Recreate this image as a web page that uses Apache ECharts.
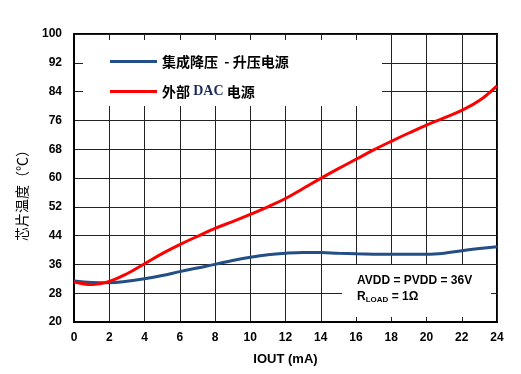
<!DOCTYPE html>
<html>
<head>
<meta charset="utf-8">
<script src="https://cdn.jsdelivr.net/npm/echarts@6/dist/echarts.min.js"></script>
<style>html,body{margin:0;padding:0;background:#fff;}#c{width:521px;height:374px;}</style>
</head>
<body>
<div id="c"></div>
<script>
const iout = [0,1,2,3,4,5,6,7,8,9,10,11,12,13,14,15,16,17,18,19,20,21,22,23,24];
const buckBoost = [31.4,31.0,30.9,31.3,32.0,32.9,34.0,35.0,36.0,37.1,38.0,38.7,39.1,39.3,39.3,39.1,38.95,38.85,38.8,38.8,38.8,39.1,39.8,40.4,40.9];
const extDac = [31.1,30.4,31.3,33.4,36.2,39.0,41.5,43.8,46.0,47.9,49.9,52.0,54.3,57.1,59.9,62.6,65.2,67.8,70.2,72.5,74.7,76.7,78.8,81.5,85.6];
const seriesNames = ['集成降压  - 升压电源', '外部 DAC 电源'];
const xTicks = [0,2,4,6,8,10,12,14,16,18,20,22,24];
const yTicks = [20,28,36,44,52,60,68,76,84,92,100];

const chart = echarts.init(document.getElementById('c'), null, {renderer:'canvas'});
const boldFont = 'Arial, "Liberation Sans", sans-serif';
const cjk = '"Noto Sans CJK SC", sans-serif';
chart.setOption({
  animation: false,
  backgroundColor: '#fff',
  grid: {left:74, right:24, top:34, bottom:52, show:true, borderColor:'#000', borderWidth:2, backgroundColor:'transparent'},
  xAxis: {
    type:'value', min:0, max:24, interval:2,
    name:'IOUT (mA)', nameLocation:'middle', nameGap:31,
    nameTextStyle:{fontFamily:boldFont, fontWeight:'bold', fontSize:13, color:'#000'},
    axisLine:{show:true, lineStyle:{color:'#000', width:2}},
    axisTick:{show:false},
    axisLabel:{margin:10, fontFamily:boldFont, fontWeight:'bold', fontSize:12, color:'#000', formatter: v => xTicks.includes(v) ? String(v) : ''},
    splitLine:{show:true, lineStyle:{color:'#222', width:1}}
  },
  yAxis: {
    type:'value', min:20, max:100, interval:8,
    axisLine:{show:true, lineStyle:{color:'#000', width:2}},
    axisTick:{show:false},
    axisLabel:{margin:12, fontFamily:boldFont, fontWeight:'bold', fontSize:12, color:'#000', formatter: v => yTicks.includes(v) ? String(v) : ''},
    splitLine:{show:true, lineStyle:{color:'#222', width:1}}
  },
  legend: {
    show:true, z:20, orient:'vertical', left:110, top:53, itemGap:13, padding:0,
    itemWidth:47, itemHeight:3, icon:'rect',
    textStyle:{fontFamily:cjk, fontWeight:'bold', fontSize:14, color:'#000', lineHeight:17,
      rich:{d:{fontFamily:'"Liberation Serif", serif', fontWeight:'bold', fontSize:14, lineHeight:17, color:'#1a2a5a'}}},
    formatter: function(n){ return n === seriesNames[1] ? '外部 {d|DAC} 电源' : n; },
    data: seriesNames
  },
  graphic: [
    {type:'rect', z:1, shape:{x:83, y:40, width:299, height:66}, style:{fill:'#fff'}},
    {type:'rect', z:1, shape:{x:342, y:265, width:149, height:52}, style:{fill:'#fff'}},
    {type:'text', z:6, left:357, top:275, style:{text:'AVDD = PVDD = 36V', fontFamily:boldFont, fontWeight:'bold', fontSize:12, fill:'#000'}},
    {type:'text', z:6, left:357, top:291, style:{
      text:'R{s|LOAD} = 1Ω', fontFamily:boldFont, fontWeight:'bold', fontSize:12, fill:'#000',
      rich:{s:{fontSize:8, fontWeight:'bold', fontFamily:boldFont, verticalAlign:'bottom', padding:[6,0,0,0]}}
    }},
    {type:'text', z:6, x:22, y:192, rotation:Math.PI/2, style:{text:'芯片温度（℃）', fontFamily:cjk, fontSize:14, fill:'#000', align:'center', verticalAlign:'middle'}}
  ],
  series: [
    {name:seriesNames[0], type:'line', z:10, smooth:0.4, symbol:'none', data: iout.map((x,i)=>[x, buckBoost[i]]),
     lineStyle:{color:'#234e86', width:3}, itemStyle:{color:'#234e86'}},
    {name:seriesNames[1], type:'line', z:10, smooth:0.4, symbol:'none', data: iout.map((x,i)=>[x, extDac[i]]),
     lineStyle:{color:'#ff0000', width:3}, itemStyle:{color:'#ff0000'}}
  ]
});
</script>
</body>
</html>
